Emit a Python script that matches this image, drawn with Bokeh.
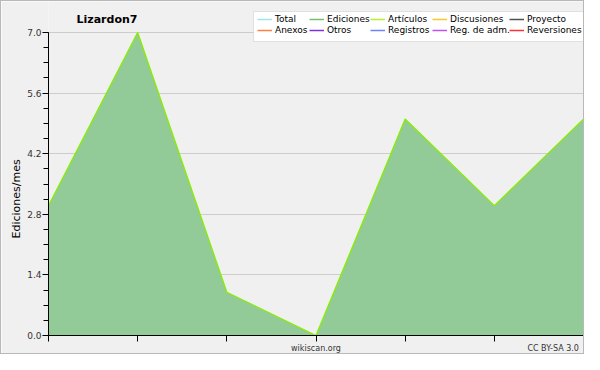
from bokeh.plotting import figure
from bokeh.models import (BoxAnnotation, ColumnDataSource, FixedTicker, Label, Legend,
                          LegendItem, NumeralTickFormatter, Range1d, Title)
from bokeh.embed import file_html
from bokeh.resources import INLINE

months = [0, 1, 2, 3, 4, 5, 6]
ediciones = [3.0, 7.0, 1.0, 0.0, 5.0, 3.0, 5.0]
y_ticks = [0.0, 1.4, 2.8, 4.2, 5.6, 7.0]
series_names = ["Total", "Anexos", "Ediciones", "Otros", "Artículos", "Registros",
                "Discusiones", "Reg. de adm.", "Proyecto", "Reversiones"]
series_colors = ["#a0e4e4", "#ff8040", "#70c070", "#8030e0", "#b8f030", "#7080ff",
                 "#ffc820", "#c050f0", "#505050", "#ff3030"]
chart_title = "Lizardon7"
y_label = "Ediciones/mes"
site_text = "wikiscan.org"
license_text = "CC BY-SA 3.0"

FONT = "DejaVu Sans"

# frame geometry (pixels) used to place the decorations
FRAME_LEFT = 47
FRAME_RIGHT = 582
FRAME_BOTTOM = 334
PX_TOP7 = 31
PPU = (FRAME_BOTTOM - PX_TOP7) / 7.0
Y_TOP = 7 + PX_TOP7 / PPU


def ypx(py):
    return Y_TOP - py / PPU


def xpx(px):
    return (px - FRAME_LEFT) / (FRAME_RIGHT - FRAME_LEFT) * 6


p = figure(width=584, height=354, output_backend="svg", toolbar_location=None,
           x_range=Range1d(0, 6), y_range=Range1d(0, Y_TOP),
           min_border_left=FRAME_LEFT, min_border_right=584 - FRAME_RIGHT,
           min_border_top=0, min_border_bottom=10)
p.background_fill_color = "#f0f0f0"
p.border_fill_color = "#f0f0f0"
p.outline_line_color = None
p.styles = {"border": "1px solid #b8b8b8", "box-sizing": "border-box"}

src = ColumnDataSource(dict(x=months, y=ediciones, base=[0] * len(months)))
p.varea(x="x", y1="base", y2="y", source=src, fill_color="#93cb98", fill_alpha=1.0)
p.line(x="x", y="y", source=src, line_color="#88ee00", line_width=1.3)

# x axis: tick marks drawn as minor ticks, the two footer texts as major labels
X_SITE = 3.0
X_LICENSE = 5.66
p.xaxis.ticker = FixedTicker(ticks=[X_SITE, X_LICENSE], minor_ticks=months)
p.xaxis.major_label_overrides = {X_SITE: site_text, X_LICENSE: license_text}
p.xaxis.major_label_text_font = FONT
p.xaxis.major_label_text_font_size = "8px"
p.xaxis.major_label_text_color = "#333333"
p.xaxis.major_tick_line_color = None
p.xaxis.major_tick_out = 6
p.xaxis.major_tick_in = 0
p.xaxis.minor_tick_out = 6
p.xaxis.minor_tick_in = 0
p.xaxis.minor_tick_line_color = "black"
p.xaxis.major_label_standoff = 2
p.xaxis.axis_line_color = "black"

minor = [round(i * 0.35, 2) for i in range(21)]
p.yaxis.ticker = FixedTicker(ticks=y_ticks, minor_ticks=minor)
p.yaxis.bounds = (0, 7)
p.yaxis.formatter = NumeralTickFormatter(format="0.0")
p.yaxis.major_label_text_font = FONT
p.yaxis.major_label_text_font_size = "9px"
p.yaxis.major_label_text_color = "#333333"
p.yaxis.major_tick_out = 6
p.yaxis.major_tick_in = 0
p.yaxis.minor_tick_out = 5
p.yaxis.minor_tick_in = 0
p.yaxis.major_label_standoff = 1

# y label as a left-side title so it can be centred on the 0..7 span
ref_label_bottom = 237
p.add_layout(Title(text=y_label, align="left", offset=FRAME_BOTTOM - ref_label_bottom,
                   text_font=FONT, text_font_size="11px", text_font_style="normal",
                   text_color="black", standoff=4), "left")

p.xgrid.grid_line_color = None
p.ygrid.grid_line_color = "#cccccc"
p.ygrid.bounds = (0, 7)

# title inside the (extended) frame
p.add_layout(Label(x=xpx(75), y=ypx(18), text=chart_title, text_font=FONT,
                   text_font_size="11px", text_font_style="bold",
                   text_baseline="middle", text_color="black"))

# legend: white box + five two-row columns
p.add_layout(BoxAnnotation(left=xpx(252), right=xpx(582), top=ypx(10), bottom=ypx(40),
                           fill_color="white", fill_alpha=1.0,
                           line_color="#aaaaaa", line_width=1, level="annotation"))
col_px = [256, 308, 369, 431, 508]
for c, cx in enumerate(col_px):
    items = []
    for k in range(2):
        i = 2 * c + k
        r = p.line(x=[-1, -0.5], y=[-1, -1], line_color=series_colors[i], line_width=1.5)
        items.append(LegendItem(label=series_names[i], renderers=[r]))
    lg = Legend(items=items, location=(cx - FRAME_LEFT, FRAME_BOTTOM - 34),
                orientation="vertical",
                label_text_font=FONT, label_text_font_size="9px", label_text_color="black",
                glyph_width=15, glyph_height=10, label_standoff=3, spacing=1,
                padding=0, margin=0, label_height=10,
                border_line_color=None, background_fill_alpha=0.0)
    p.add_layout(lg, "center")

open("out.html", "w").write(file_html(p, INLINE))
